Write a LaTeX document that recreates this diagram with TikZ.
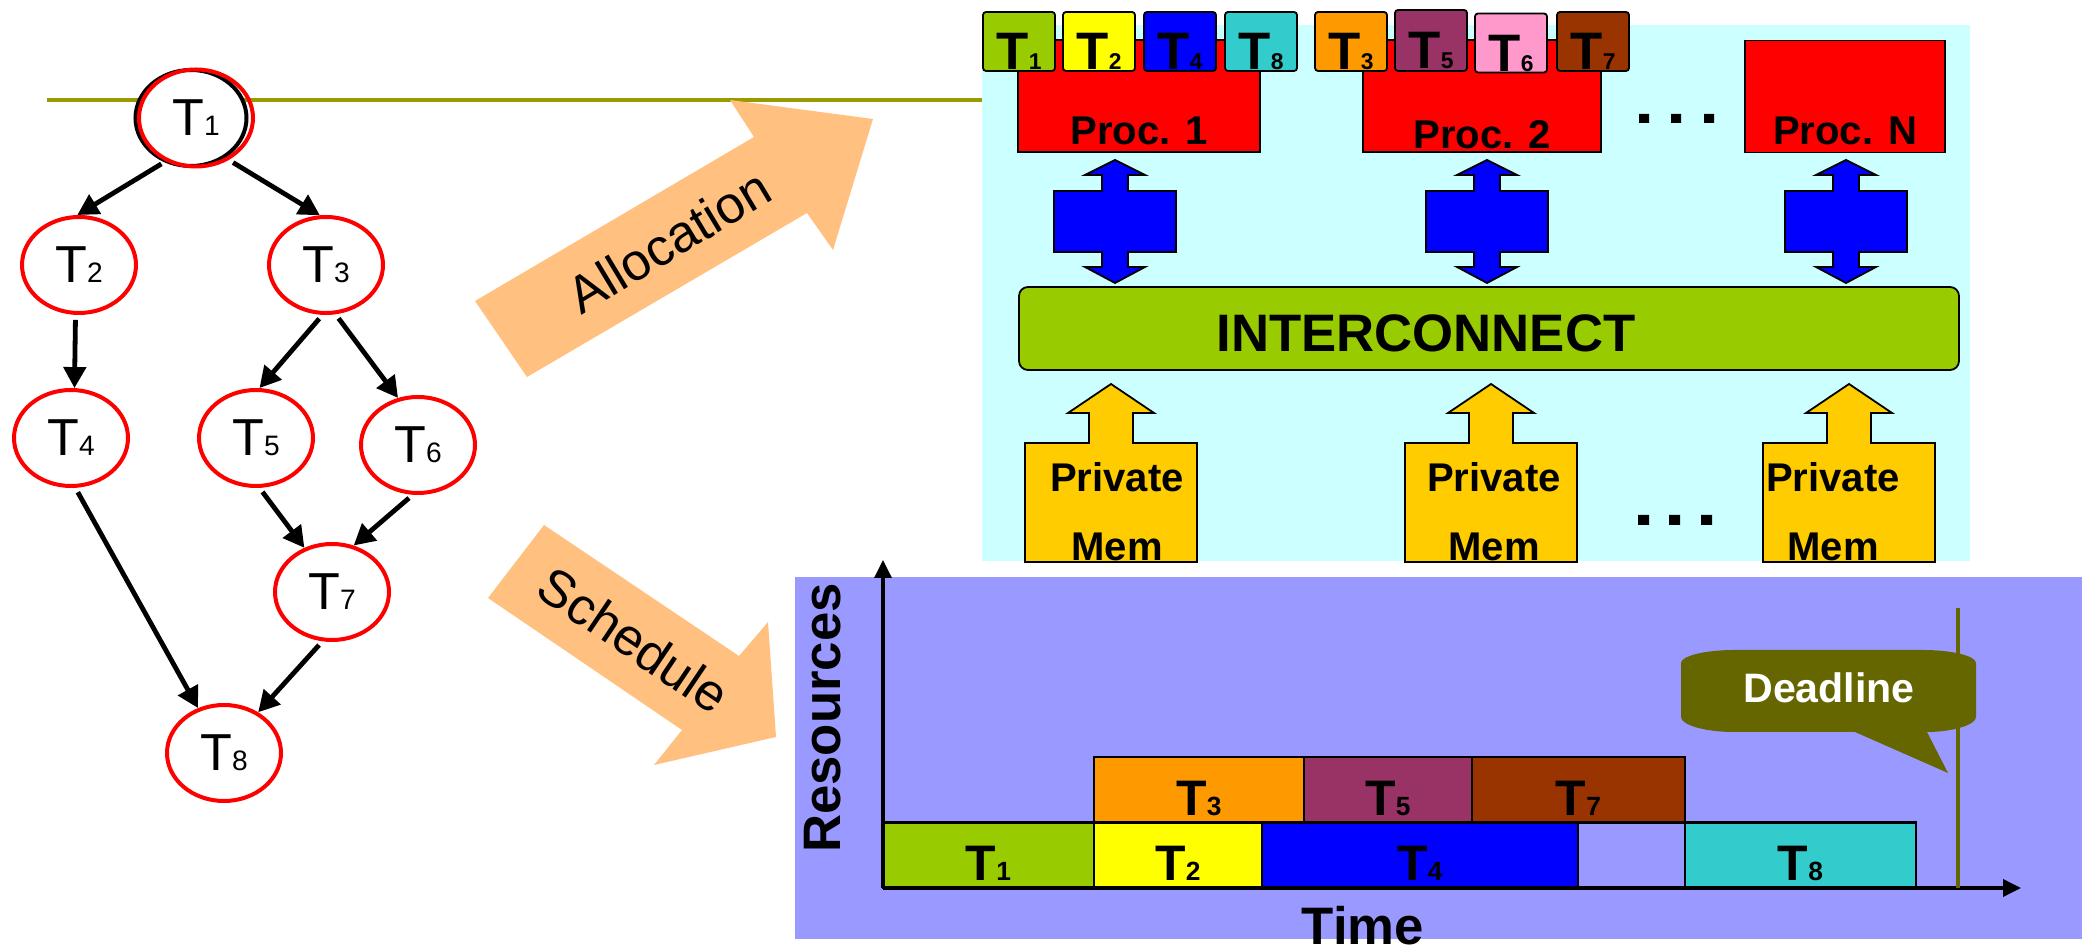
\documentclass[tikz,border=0pt]{standalone}
\usepackage{fontspec}
\setmainfont{Liberation Sans}
\usetikzlibrary{arrows.meta,shapes.geometric}

\definecolor{tgreen}{HTML}{99CC00}
\definecolor{tyellow}{HTML}{FFFF00}
\definecolor{torange}{HTML}{FF9900}
\definecolor{tblue}{HTML}{0000FF}
\definecolor{tplum}{HTML}{993366}
\definecolor{tpink}{HTML}{FF99CC}
\definecolor{tbrown}{HTML}{993300}
\definecolor{tteal}{HTML}{33CCCC}
\definecolor{socbg}{HTML}{CCFFFF}
\definecolor{ganttbg}{HTML}{9999FF}
\definecolor{flowarrow}{HTML}{FFC080}
\definecolor{headrule}{HTML}{999900}
\definecolor{deadline}{HTML}{666600}
\definecolor{memfill}{HTML}{FFCC00}

% T with a small index, one size for each place it shows up
\newcommand{\gtask}[1]{T{\fontsize{8}{8}\selectfont #1}}
\newcommand{\ttask}[1]{T{\fontsize{6.5}{6.5}\selectfont #1}}
\newcommand{\stask}[1]{T{\fontsize{7.5}{7.5}\selectfont #1}}

\tikzset{task/.style={ellipse, draw=red, line width=0.4mm, fill=white, minimum width=11.4mm, minimum height=9.6mm, inner sep=0pt, font=\fontsize{14.8}{16}\selectfont},
dep/.style={line width=0.48mm, shorten <=0.5mm, -{Triangle[length=2.1mm,width=2.2mm]}},
flowtext/.style={font=\fontsize{14.8}{16}\selectfont},
proc/.style={draw, fill=red, line width=0.18mm, inner sep=0pt, minimum height=11.2mm},
boldtext/.style={font=\bfseries\fontsize{11.4}{12}\selectfont},
bigtext/.style={font=\bfseries\fontsize{15}{16}\selectfont},
%text height puts the index on the bottom edge of the tile
tile/.style={draw, line width=0.18mm, rounded corners=0.3mm, minimum width=7.2mm, minimum height=5.9mm, inner sep=0pt, text height=5.7mm, text depth=0pt, font=\bfseries\fontsize{15}{15}\selectfont},
link/.style={draw, fill=tblue, line width=0.18mm},
memory/.style={draw, fill=memfill, line width=0.18mm},
slot/.style={draw, line width=0.25mm, minimum height=6.55mm, inner sep=0pt, text height=5.1mm, text depth=0pt, font=\bfseries\fontsize{14.2}{15}\selectfont},
chartaxis/.style={line width=0.35mm, -{Triangle[length=1.8mm,width=1.7mm]}}}

\begin{document}
\begin{tikzpicture}[x=0.1mm, y=-0.1mm]
	\useasboundingbox (0,0) rectangle (2085,950);

	\draw[headrule, line width=0.4mm] (47,100) -- (982,100);
	\fill[socbg] (982,25) rectangle (1970,561);
	\fill[ganttbg] (795,577) rectangle (2082,939);

	% allocation / schedule arrows
	\fill[flowarrow] (475,301) -- (754,137) -- (730,100) -- (873,119) -- (833,250) -- (807,213) -- (527,377) -- cycle;
	\fill[flowarrow] (544,525) -- (739,656) -- (768,622) -- (776,737) -- (654,765) -- (682,730) -- (488,598) -- cycle;
	\node[flowtext, rotate=31] (alloc) at (669,241) {Allocation};
	\node[flowtext, rotate=-34] (sched) at (634,640) {Schedule};

	% task graph
	\node[task, draw=black, minimum width=11.1mm] (T1b) at (191,118) {};
	\node[task, fill=none, minimum height=9.7mm] (T1) at (196,118) {\gtask{1}};
	\node[task] (T2) at (79,265) {\gtask{2}};
	\node[task] (T3) at (326,265) {\gtask{3}};
	\node[task] (T4) at (71,438) {\gtask{4}};
	\node[task] (T5) at (256,438) {\gtask{5}};
	\node[task] (T6) at (418,445) {\gtask{6}};
	\node[task] (T7) at (332,592) {\gtask{7}};
	\node[task] (T8) at (224,753) {\gtask{8}};

	\draw[dep] (T1.235) -- (T2.92);
	\draw[dep] (T1.308) -- (T3.97);
	\draw[dep] (T2.266) -- (T4.86);
	\draw[dep] (T3.266) -- (T5.86);
	\draw[dep] (T3.281) -- (T6.113);
	\draw[dep] (T5.274) -- (T7.122);
	\draw[dep] (T6.264) -- (T7.65);
	\draw[dep] (T4.275) -- (T8.120);
	\draw[dep] (T7.259) -- (T8.50);

	% processors
	\node[proc, minimum width=24.2mm] (P1) at (1139,96) {};
	\node[proc, minimum width=23.8mm] (P2) at (1482,96) {};
	\node[proc, minimum width=20mm] (PN) at (1845,96.5) {};
	\node[boldtext] (P1l) at (1139,131) {Proc. 1};
	\node[boldtext] (P2l) at (1482,135) {Proc. 2};
	\node[boldtext] (PNl) at (1845,131) {Proc. N};

	\node[tile, fill=tgreen] (a1) at (1019,41.5) {\ttask{1}};
	\node[tile, fill=tyellow] (a2) at (1099,41.5) {\ttask{2}};
	\node[tile, fill=tblue] (a4) at (1180,41.5) {\ttask{4}};
	\node[tile, fill=tteal] (a8) at (1261,41.5) {\ttask{8}};
	\node[tile, fill=torange] (a3) at (1351,41.5) {\ttask{3}};
	\node[tile, fill=tplum, minimum height=6.1mm] (a5) at (1431,40.5) {\ttask{5}};
	\node[tile, fill=tpink] (a6) at (1511,43) {\ttask{6}};
	\node[tile, fill=tbrown] (a7) at (1593,41.5) {\ttask{7}};

	\fill (1639,114) rectangle ++(10,9) (1671,114) rectangle ++(10,9) (1704,114) rectangle ++(10,9);

	% links to the interconnect
	\foreach \x in {1115,1487,1846}
		\draw[link] (\x,160) -- ++(30,15) -- ++(-17,0) -- ++(0,16) -- ++(48,0) -- ++(0,61) -- ++(-48,0) -- ++(0,15) -- ++(17,0)
		-- ++(-30,16) -- ++(-30,-16) -- ++(17,0) -- ++(0,-15) -- ++(-48,0) -- ++(0,-61) -- ++(48,0) -- ++(0,-16) -- ++(-17,0) -- cycle;

	\node[draw, fill=tgreen, line width=0.18mm, rounded corners=0.9mm, minimum width=94mm, minimum height=8.3mm] (bus) at (1489,328.5) {};
	\node[bigtext] (busl) at (1426,333) {INTERCONNECT};

	% private memories
	\foreach \x in {1111,1491,1849}
		\draw[memory] (\x-86,562) -- ++(0,-119) -- ++(64,0) -- ++(0,-30) -- ++(-21,0) -- ++(43,-29) -- ++(43,29) -- ++(-21,0)
		-- ++(0,30) -- ++(64,0) -- ++(0,119) -- cycle;
	\node[boldtext] (m1a) at (1117,477) {Private};
	\node[boldtext] (m2a) at (1494,477) {Private};
	\node[boldtext] (m3a) at (1833,477) {Private};
	\node[boldtext] (m1b) at (1117,547) {Mem};
	\node[boldtext] (m2b) at (1494,547) {Mem};
	\node[boldtext] (m3b) at (1833,547) {Mem};

	\fill (1638,515) rectangle ++(11,10) (1669,515) rectangle ++(11,10) (1701,515) rectangle ++(11,10);

	% schedule chart
	\node[slot, fill=tgreen, minimum width=21.1mm] (s1) at (988.5,855.5) {\stask{1}};
	\node[slot, fill=tyellow, minimum width=16.8mm] (s2) at (1178,855.5) {\stask{2}};
	\node[slot, fill=tblue, minimum width=31.6mm] (s4) at (1420,855.5) {\stask{4}};
	\node[slot, minimum width=10.7mm] (idle) at (1631.5,855.5) {};
	\node[slot, fill=tteal, minimum width=23.1mm] (s8) at (1800.5,855.5) {\stask{8}};
	\node[slot, fill=torange, minimum width=21mm] (s3) at (1199,790) {\stask{3}};
	\node[slot, fill=tplum, minimum width=16.8mm] (s5) at (1388,790) {\stask{5}};
	\node[slot, fill=tbrown, minimum width=21.3mm] (s7) at (1578.5,790) {\stask{7}};

	\coordinate (origin) at (883,888);
	\coordinate (ytop) at (883,560);
	\coordinate (xend) at (2021,888);
	\draw[chartaxis] (origin) -- (ytop);
	\draw[chartaxis] (origin) -- (xend);
	\node[bigtext, rotate=90] (res) at (823,718) {Resources};
	\node[bigtext] (time) at (1363,926) {Time};

	% deadline marker
	\fill[deadline] (1734,650) -- (1923,650) .. controls (1952,650) and (1976,656) .. (1976,663) -- (1976,717)
		.. controls (1976,725) and (1952,732) .. (1927,732) -- (1948,773) -- (1855,732) -- (1734,732)
		.. controls (1705,732) and (1681,725) .. (1681,717) -- (1681,663) .. controls (1681,656) and (1705,650) .. cycle;
	\coordinate (dtop) at (1958,608);
	\coordinate (dbot) at (1958,888);
	\draw[deadline, line width=0.45mm] (dtop) -- (dbot);
	\node[text=white, font=\bfseries\fontsize{11.7}{12}\selectfont] (dlabel) at (1829,688) {Deadline};

\end{tikzpicture}
\end{document}
